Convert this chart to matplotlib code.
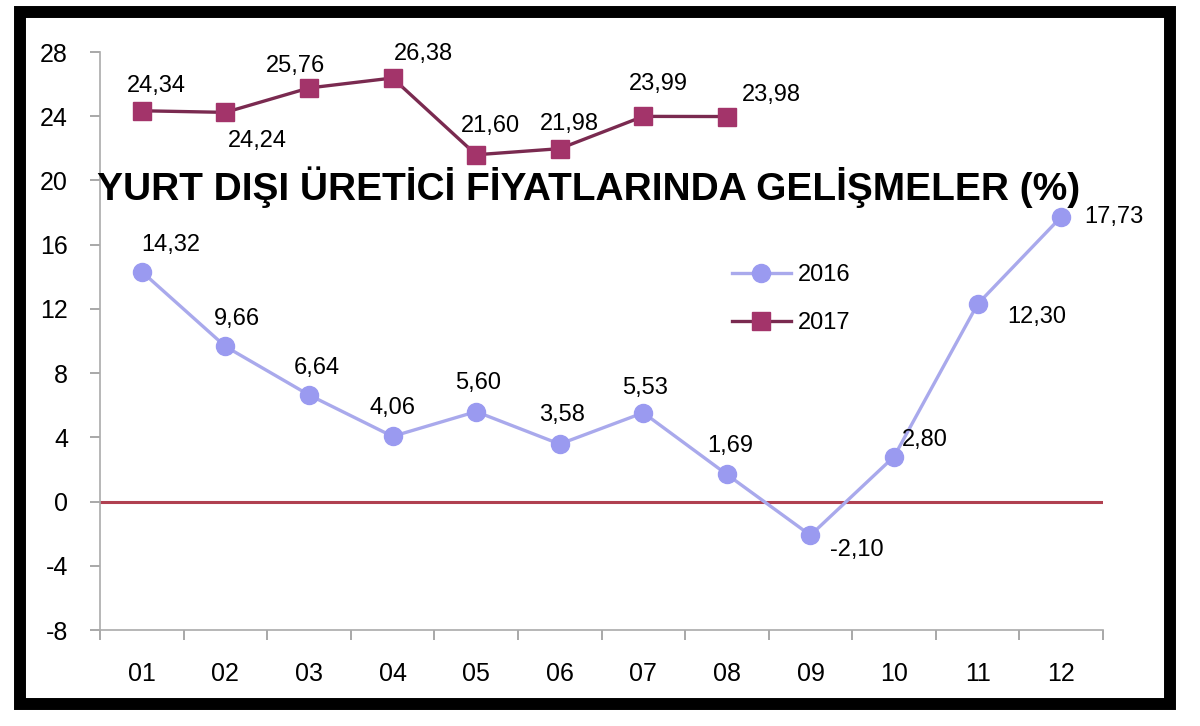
import matplotlib
matplotlib.use('Agg')
import matplotlib.pyplot as plt
from matplotlib.patches import Rectangle

plt.rcParams['font.family'] = ['Liberation Sans', 'DejaVu Sans']

months = ['01', '02', '03', '04', '05', '06', '07', '08', '09', '10', '11', '12']
y2016 = [14.32, 9.66, 6.64, 4.06, 5.60, 3.58, 5.53, 1.69, -2.10, 2.80, 12.30, 17.73]
y2017 = [24.34, 24.24, 25.76, 26.38, 21.60, 21.98, 23.99, 23.98]
yticks = [-8, -4, 0, 4, 8, 12, 16, 20, 24, 28]

# label offsets in pixels (dx, dy up)
off2016 = [(29, 27), (12, 27), (8, 27), (0, 28), (2, 29), (2, 29), (2, 25), (3, 28),
           (46, -15), (31, 17), (59, -13), (53, 0)]
off2017 = [(15, 25), (32, -29), (-13, 22), (31, 24), (14, 29), (10, 25), (15, 32), (45, 22)]

fig = plt.figure(figsize=(12, 7.26), dpi=100)
ax = fig.add_axes([100 / 1200, 96 / 726, 1003 / 1200, 578 / 726])

x16 = range(len(y2016))
x17 = range(len(y2017))

ax.axhline(0, color='#b04050', lw=2.2, zorder=1)
ax.plot(x16, y2016, color='#a9a9ec', lw=2.4, marker='o', ms=13,
        mfc='#9a9af0', mec='#9a9af0', label='2016', zorder=3)
ax.plot(x17, y2017, color='#7a2a50', lw=2.4, marker='s', ms=13,
        mfc='#a3346a', mec='#a3346a', label='2017', zorder=3)

for i, v in enumerate(y2016):
    dx, dy = off2016[i]
    ax.annotate(f'{v:.2f}'.replace('.', ','), (i, v), xytext=(dx * 0.72, dy * 0.72),
                textcoords='offset points', ha='center', va='center', fontsize=17)
for i, v in enumerate(y2017):
    dx, dy = off2017[i]
    ax.annotate(f'{v:.2f}'.replace('.', ','), (i, v), xytext=(dx * 0.72, dy * 0.72),
                textcoords='offset points', ha='center', va='center', fontsize=17)

ax.text(5.35, 19.6, 'YURT DIŞI ÜRETİCİ FİYATLARINDA GELİŞMELER (%)',
        ha='center', va='center', fontsize=28, fontweight='bold', zorder=4)

ax.set_xlim(-0.5, 11.5)
ax.set_ylim(-8, 28)
ax.set_yticks(yticks)
ax.set_yticklabels([str(t) for t in yticks])
ax.set_xticks(list(x16))
ax.set_xticklabels(months)
ax.set_xticks([i - 0.5 for i in range(13)], minor=True)
ax.tick_params(axis='x', which='major', length=0, pad=23, labelsize=18)
ax.tick_params(axis='x', which='minor', length=7, color='#999999', width=1.2)
ax.tick_params(axis='y', length=7, color='#999999', width=1.2, pad=16, labelsize=18)

for s in ['top', 'right']:
    ax.spines[s].set_visible(False)
for s in ['left', 'bottom']:
    ax.spines[s].set_color('#aaaaaa')
    ax.spines[s].set_linewidth(1.2)

ax.legend(loc='upper left', bbox_to_anchor=(720 / 1200, (726 - 252) / 726),
          bbox_transform=fig.transFigure, frameon=False, fontsize=17,
          borderpad=0, labelspacing=1.1, handlelength=2.5, handletextpad=0.3)

fig.patches.append(Rectangle((20 / 1200, 22 / 726), 1150 / 1200, 692 / 726,
                             transform=fig.transFigure, fill=False,
                             edgecolor='black', lw=8.6))

fig.savefig('out.png', dpi=100)
